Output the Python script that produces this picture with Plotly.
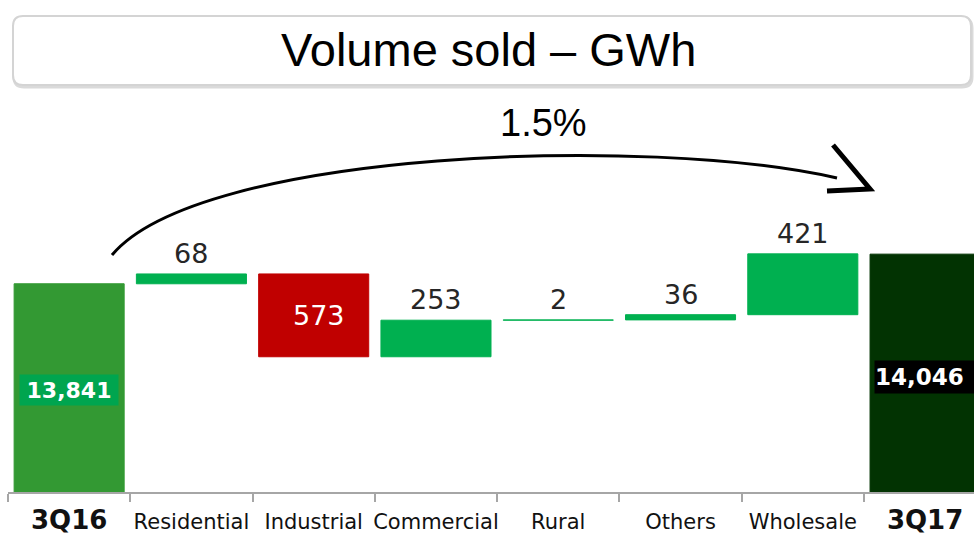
"""Volume sold waterfall"""
import plotly.graph_objects as go

categories = ['3Q16', 'Residential', 'Industrial', 'Commercial',
              'Rural', 'Others', 'Wholesale', '3Q17']
start_value = 13841
changes = [68, -573, 253, 2, 36, 421]
end_value = 14046

tick_labels = ["<span style='font-size:26px'><b>3Q16</b></span>",
               'Residential', 'Industrial', 'Commercial', 'Rural', 'Others',
               'Wholesale',
               "<span style='font-size:26px'><b>3Q17</b></span>"]

COLORS = {
    'start': '#339933',
    'up': '#00B050',
    'down': '#C00000',
    'end': '#023302',
}
VALUE_FONT = 'DejaVu Sans'
TITLE_FONT = 'Liberation Sans'

# plot area in pixels
PL, PT, PW, PH = 8, 100, 966, 392


def px(x):
    return (x - PL) / PW


def py(y):
    return (PT + PH - y) / PH


def path(points):
    """points: list of (cmd, x, y, ...) in pixels -> paper path string"""
    out = []
    for p in points:
        cmd, coords = p[0], p[1:]
        conv = []
        for i in range(0, len(coords), 2):
            conv.append(f"{px(coords[i]):.5f},{py(coords[i + 1]):.5f}")
        out.append(cmd + ' ' + ' '.join(conv))
    return ' '.join(out)


def rounded_box(x0, y0, x1, y1, r):
    return path([
        ('M', x0 + r, y0), ('L', x1 - r, y0), ('Q', x1, y0, x1, y0 + r),
        ('L', x1, y1 - r), ('Q', x1, y1, x1 - r, y1), ('L', x0 + r, y1),
        ('Q', x0, y1, x0, y1 - r), ('L', x0, y0 + r), ('Q', x0, y0, x0 + r, y0),
    ]) + ' Z'


bases = []
running = start_value
for c in changes:
    bases.append(running)
    running += c

values = [start_value] + changes + [end_value]
base_list = [0] + bases + [0]
colors = ([COLORS['start']]
          + [COLORS['up'] if c >= 0 else COLORS['down'] for c in changes]
          + [COLORS['end']])

fig = go.Figure()
fig.add_trace(go.Bar(
    x=categories,
    y=values,
    base=base_list,
    marker=dict(color=colors, line=dict(color=colors, width=1)),
    width=0.9,
    hoverinfo='skip',
))

annotations = []
for cat, b, c in zip(categories[1:-1], bases, changes):
    if c >= 0:
        annotations.append(dict(
            x=cat, y=b + c, xref='x', yref='y', text=f"{abs(c):,}",
            showarrow=False, yanchor='bottom', yshift=3,
            font=dict(family=VALUE_FONT, size=27, color='#262626')))
    else:
        annotations.append(dict(
            x=cat, y=b + c / 2, xref='x', yref='y', text=f"{abs(c):,}",
            showarrow=False, yanchor='middle', xshift=5,
            font=dict(family=VALUE_FONT, size=27, color='white')))

annotations.append(dict(
    x=categories[0], y=start_value, xref='x', yref='y',
    text=f"<b>{start_value:,}</b>", showarrow=False, yanchor='middle',
    yshift=-106, bgcolor='#00A54F', width=98, height=30, borderpad=0,
    font=dict(family=VALUE_FONT, size=22, color='white')))
annotations.append(dict(
    x=categories[-1], y=end_value, xref='x', yref='y',
    text=f"<b>{end_value:,}</b>", showarrow=False, yanchor='middle',
    xanchor='left', xshift=-51, align='left',
    yshift=-123, bgcolor='black', width=110, height=32, borderpad=0,
    font=dict(family=VALUE_FONT, size=23, color='white')))

growth = (end_value / start_value - 1) * 100
annotations.append(dict(
    x=px(543), y=py(123), xref='paper', yref='paper', text=f"{growth:.1f}%",
    showarrow=False, xanchor='center', yanchor='middle',
    font=dict(family=TITLE_FONT, size=38, color='black')))
annotations.append(dict(
    x=px(488), y=py(50), xref='paper', yref='paper', text='Volume sold – GWh',
    showarrow=False, xanchor='center', yanchor='middle',
    font=dict(family=TITLE_FONT, size=47, color='black')))

shapes = [
    dict(type='path', xref='paper', yref='paper',
         path=rounded_box(14, 18, 972, 87, 10),
         line=dict(color='#dadada', width=3)),
    dict(type='path', xref='paper', yref='paper',
         path=rounded_box(13, 16, 971, 85, 10),
         fillcolor='white', line=dict(color='#d4d4d4', width=2)),
    dict(type='path', xref='paper', yref='paper',
         path=path([('M', 112, 255), ('C', 200, 150, 650, 135, 837, 178)]),
         line=dict(color='black', width=3)),
    dict(type='path', xref='paper', yref='paper',
         path=path([('M', 833, 145), ('L', 870, 189), ('L', 827, 191)]),
         line=dict(color='black', width=5)),
]

y_bottom = 12400
y_top = y_bottom + PH / 0.1445

fig.update_layout(
    width=974, height=535,
    margin=dict(l=PL, r=974 - PL - PW, t=PT, b=535 - PT - PH,
                autoexpand=False),
    paper_bgcolor='white', plot_bgcolor='white',
    showlegend=False,
    bargap=0.1,
    annotations=annotations,
    shapes=shapes,
    xaxis=dict(
        type='category', categoryorder='array', categoryarray=categories,
        tickmode='array', tickvals=categories, ticktext=tick_labels,
        range=[-0.5, 7.4], automargin=False, tickangle=0,
        showline=True, linecolor='#a6a6a6', linewidth=2,
        ticks='outside', tickson='boundaries', ticklen=8,
        tickcolor='#a6a6a6', tickwidth=2,
        ticklabelstandoff=10,
        showgrid=False, zeroline=False,
        tickfont=dict(family=VALUE_FONT, size=21, color='#111111'),
    ),
    yaxis=dict(range=[y_bottom, y_top], visible=False, showgrid=False,
               automargin=False),
)

# drop the default page margin so the figure sits at the window's corner
fig.write_html(
    "out.html",
    config={'displayModeBar': False},
    post_script="document.body.style.margin='0';"
                "document.body.style.overflow='hidden';")
